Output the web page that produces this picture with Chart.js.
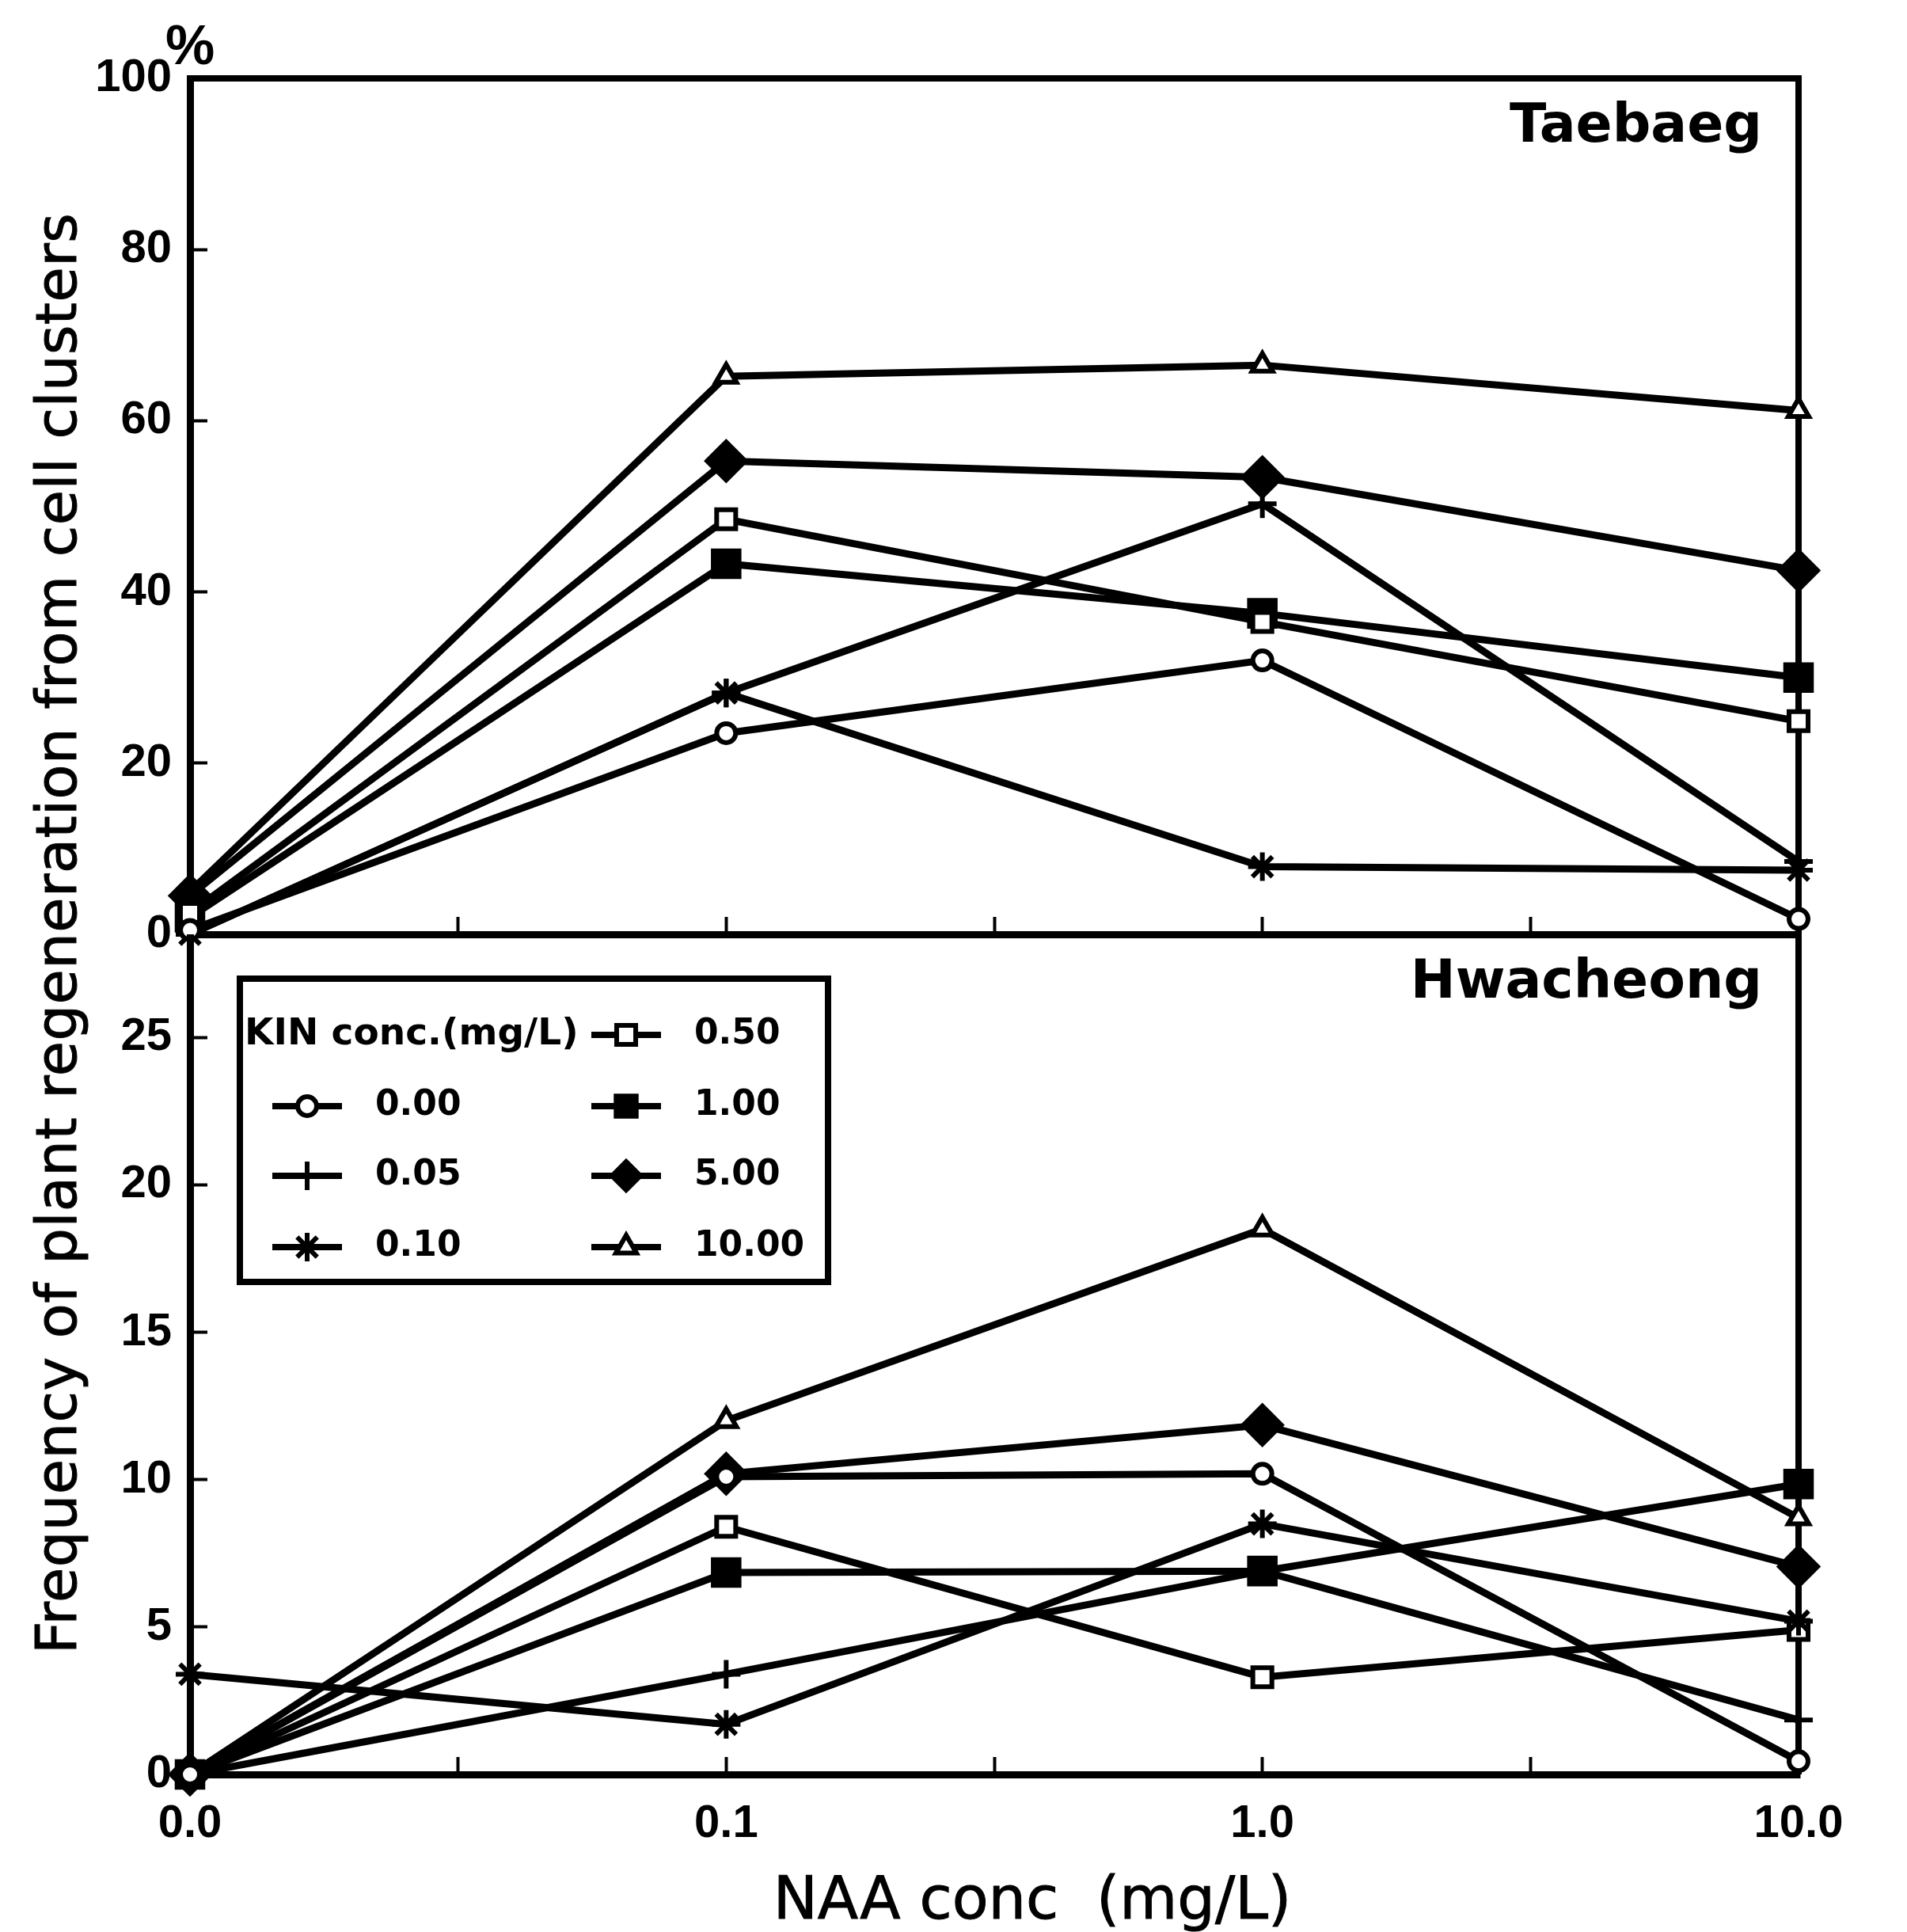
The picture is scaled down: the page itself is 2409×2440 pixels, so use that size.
<!DOCTYPE html>
<html>
<head>
<meta charset="utf-8">
<title>Plant regeneration from cell clusters</title>
<script src="https://cdn.jsdelivr.net/npm/chart.js@4.4.1/dist/chart.umd.min.js"></script>
<style>
  body { margin: 0; background: #fff; }
  #wrap { position: relative; width: 2409px; height: 2440px; overflow: hidden; }
  canvas { position: absolute; left: 0; }
  #topChart { top: 0; }
  #bottomChart { top: 1180px; }
  .ytitle {
    position: absolute; left: 71px; top: 1179px;
    transform: translate(-50%, -50%) rotate(-90deg);
    font: 72px/1 'DejaVu Sans', sans-serif; color: #000;
    -webkit-text-stroke: 1px #000; white-space: nowrap;
    letter-spacing: 0.4px;
  }
  .xtitle {
    position: absolute; left: 1304px; top: 2360px;
    transform: translateX(-50%);
    font: 75px/1 'DejaVu Sans', sans-serif; color: #000;
    -webkit-text-stroke: 1px #000; white-space: pre;
  }
</style>
</head>
<body>
<div id="wrap">
  <canvas id="topChart" width="2409" height="1200"></canvas>
  <canvas id="bottomChart" width="2409" height="1260"></canvas>
  <div class="ytitle">Frequency of plant regeneration from cell clusters</div>
  <div class="xtitle">NAA conc  (mg/L)</div>
</div>
<script>
// NAA levels on the x axis (plotted at evenly spaced positions 0..3)
const naaLabels = ['0.0', '0.1', '1.0', '10.0'];
const naaPos = [0, 1, 2, 3];

// KIN levels, one line per level
const kinLevels = ['0.00', '0.05', '0.10', '0.50', '1.00', '5.00', '10.00'];

// Taebaeg (%)
const tae000 = [0.5, 23.5, 32.0, 1.8];
const tae005 = [0, 28.2, 50.3, 8.5];
const tae010 = [0, 28.2, 7.9, 7.5];
const tae050 = [2.5, 48.5, 36.5, 24.9];
const tae100 = [2, 43.3, 37.5, 30.0];
const tae500 = [4.5, 55.3, 53.4, 42.5];
const tae1000 = [5, 65.2, 66.5, 61.2];

// Hwacheong (%)
const hwa000 = [0, 10.1, 10.2, 0.45];
const hwa005 = [0, 3.4, 6.9, 1.85];
const hwa010 = [3.4, 1.7, 8.5, 5.2];
const hwa050 = [0, 8.4, 3.3, 4.9];
const hwa100 = [0, 6.85, 6.9, 9.85];
const hwa500 = [0, 10.2, 11.85, 7.05];
const hwa1000 = [0, 12.0, 18.5, 8.7];

const taeSeries = [tae000, tae005, tae010, tae050, tae100, tae500, tae1000];
const hwaSeries = [hwa000, hwa005, hwa010, hwa050, hwa100, hwa500, hwa1000];

// marker look for each KIN level
const markerStyles = [
  { pointStyle: 'circle', radius: 12, fill: '#fff' },
  { pointStyle: 'cross', radius: 18, fill: '#000' },
  { pointStyle: 'star', radius: 18, fill: '#000' },
  { pointStyle: 'rect', radius: 17, fill: '#fff' },
  { pointStyle: 'rect', radius: 23, fill: '#000' },
  { pointStyle: 'rectRot', radius: 24, fill: '#000' },
  { pointStyle: 'triangle', radius: 15, fill: '#fff' }
];

Chart.defaults.color = '#000';
Chart.defaults.font.family = "'Liberation Sans', Arial, sans-serif";

function makeDatasets(series) {
  return series.map((vals, i) => {
    const m = markerStyles[i];
    return {
      label: kinLevels[i],
      data: vals.map((v, j) => ({ x: naaPos[j], y: v })),
      borderColor: '#000',
      borderWidth: 9,
      tension: 0,
      clip: false,
      pointStyle: m.pointStyle,
      pointRadius: m.radius,
      pointBorderWidth: 6,
      pointBackgroundColor: m.fill,
      pointBorderColor: '#000'
    };
  });
}

// frame lines, panel name and the % unit
const panelDecor = {
  id: 'panelDecor',
  beforeDatasetsDraw(chart, args, opts) {
    const { ctx, chartArea: a } = chart;
    ctx.save();
    ctx.strokeStyle = '#000';
    ctx.lineWidth = 8;
    ctx.beginPath();
    if (opts.frameTop) {
      ctx.moveTo(a.left - 4, a.top);
      ctx.lineTo(a.right + 4, a.top);
    }
    ctx.moveTo(a.right, a.top);
    ctx.lineTo(a.right, a.bottom);
    ctx.stroke();
    ctx.restore();
  },
  afterDraw(chart, args, opts) {
    const { ctx, chartArea: a } = chart;
    ctx.save();
    ctx.fillStyle = '#000';
    ctx.font = "bold 68px 'DejaVu Sans'";
    ctx.textAlign = 'right';
    ctx.textBaseline = 'alphabetic';
    ctx.fillText(opts.name, a.right - 46, a.top + 80);
    if (opts.unit) {
      ctx.font = "bold 70px 'Liberation Sans'";
      ctx.textAlign = 'center';
      ctx.textBaseline = 'middle';
      ctx.fillText(opts.unit, a.left, 62);
    }
    ctx.restore();
  }
};

// boxed legend: title in the first cell, then two columns of levels
const kinLegend = {
  id: 'kinLegend',
  afterDraw(chart, args, opts) {
    const { ctx, chartArea: a } = chart;
    const x0 = a.left + opts.left, y0 = a.top + opts.top;
    ctx.save();
    ctx.fillStyle = '#fff';
    ctx.fillRect(x0, y0, opts.width, opts.height);
    ctx.lineWidth = 8;
    ctx.strokeStyle = '#000';
    ctx.strokeRect(x0, y0, opts.width, opts.height);
    ctx.textBaseline = 'middle';
    ctx.textAlign = 'left';
    ctx.fillStyle = '#000';
    ctx.font = "bold 47px 'DejaVu Sans'";
    ctx.fillText(opts.title, x0 + 6, y0 + opts.rows[0]);
    ctx.font = "bold 44px 'DejaVu Sans'";
    chart.data.datasets.forEach((ds, i) => {
      const [c, r] = opts.slots[i];
      const cx = x0 + opts.cols[c], cy = y0 + opts.rows[r];
      ctx.strokeStyle = '#000';
      ctx.lineWidth = 8;
      ctx.beginPath();
      ctx.moveTo(cx - 44, cy);
      ctx.lineTo(cx + 44, cy);
      ctx.stroke();
      ctx.fillStyle = ds.pointBackgroundColor;
      ctx.lineWidth = ds.pointBorderWidth;
      Chart.helpers.drawPoint(ctx, {
        pointStyle: ds.pointStyle, radius: Math.min(ds.pointRadius, 18),
        rotation: 0, borderWidth: ds.pointBorderWidth
      }, cx, cy);
      ctx.fillStyle = '#000';
      ctx.fillText(ds.label, cx + opts.textGap, cy);
    });
    ctx.restore();
  }
};

const tickFont = { family: "'Liberation Sans', Arial, sans-serif", size: 58, weight: 'bold' };

function xScale(showLabels) {
  return {
    type: 'linear', min: 0, max: 3,
    ticks: {
      display: showLabels, stepSize: 0.5, padding: 50, font: tickFont,
      maxRotation: 0, autoSkip: false,
      callback: v => Number.isInteger(v) ? naaLabels[v] : ''
    },
    grid: { drawOnChartArea: false, tickLength: -22, tickWidth: 4, color: '#000', tickColor: '#000' },
    border: { display: true, width: 9, color: '#000' },
    afterFit: s => {
      s.height = showLabels ? 199 : 20;
      s.paddingLeft = 0;
      s.paddingRight = 0;
    }
  };
}

function yScale(max, step) {
  return {
    min: 0, max: max,
    ticks: { stepSize: step, includeBounds: false, padding: 45, font: tickFont },
    grid: { drawOnChartArea: false, tickLength: -22, tickWidth: 4, color: '#000', tickColor: '#000' },
    border: { display: true, width: 9, color: '#000' },
    afterFit: s => {
      s.width = 240;
      s.paddingTop = 0;
      s.paddingBottom = 0;
    }
  };
}

new Chart(document.getElementById('topChart'), {
  type: 'line',
  data: { datasets: makeDatasets(taeSeries) },
  options: {
    responsive: false,
    animation: false,
    layout: { autoPadding: false, padding: { top: 99, right: 137, left: 0, bottom: 0 } },
    scales: { x: xScale(false), y: yScale(100, 20) },
    plugins: {
      legend: { display: false },
      tooltip: { enabled: false },
      panelDecor: { name: 'Taebaeg', frameTop: true, unit: '%' }
    }
  },
  plugins: [panelDecor]
});

new Chart(document.getElementById('bottomChart'), {
  type: 'line',
  data: { datasets: makeDatasets(hwaSeries) },
  options: {
    responsive: false,
    animation: false,
    layout: { autoPadding: false, padding: { top: 0, right: 137, left: 0, bottom: 0 } },
    scales: { x: xScale(true), y: yScale(28.5, 5) },
    plugins: {
      legend: { display: false },
      tooltip: { enabled: false },
      panelDecor: { name: 'Hwacheong', frameTop: false },
      kinLegend: {
        title: 'KIN conc.(mg/L)',
        left: 63, top: 56, width: 743, height: 383,
        rows: [71, 161, 249, 339],
        cols: [85, 488],
        textGap: 86,
        slots: [[0, 1], [0, 2], [0, 3], [1, 0], [1, 1], [1, 2], [1, 3]]
      }
    }
  },
  plugins: [panelDecor, kinLegend]
});
</script>
</body>
</html>
